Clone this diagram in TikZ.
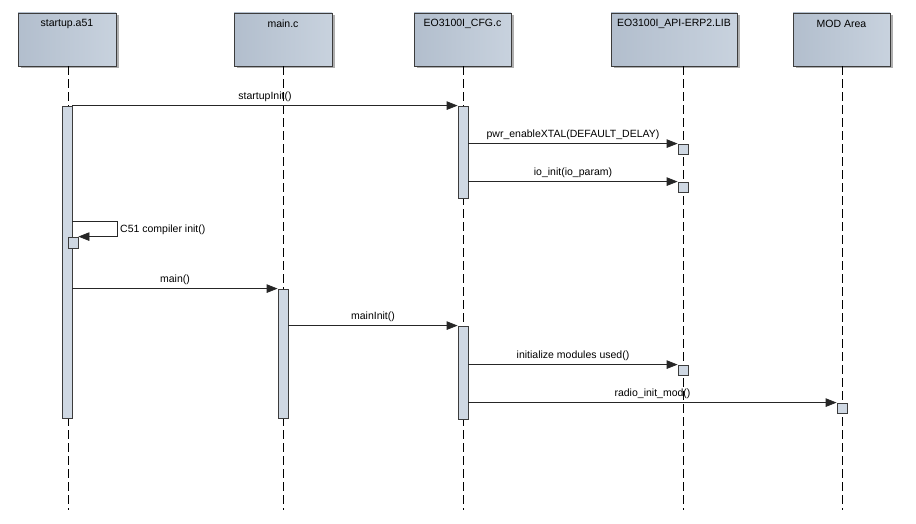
\documentclass[tikz,border=0pt]{standalone}
\usepackage{fontspec}
\setmainfont{Liberation Sans}
\usetikzlibrary{arrows.meta,positioning}
\definecolor{hdrL}{RGB}{178,190,205}
\definecolor{hdrM}{RGB}{206,215,226}
\definecolor{hdrR}{RGB}{200,210,222}
\definecolor{barfill}{RGB}{207,216,227}
\definecolor{edge}{RGB}{60,60,60}
\definecolor{shadow}{RGB}{175,175,175}
\tikzset{
  hdr/.style={draw=edge, line width=0.9pt, left color=hdrL, middle color=hdrM, right color=hdrR, minimum height=53pt, inner sep=0pt},
  hdrtext/.style={font=\fontsize{10.5}{12}\selectfont, anchor=center, inner sep=0pt},
  life/.style={draw=black, line width=0.8pt, dash pattern=on 9pt off 4pt},
  bar/.style={draw=edge, line width=0.8pt, fill=barfill, minimum width=10pt, inner sep=0pt},
  msg/.style={draw=black!85, line width=0.8pt, -{Triangle[length=11pt,width=8.5pt]}},
  lbl/.style={font=\fontsize{10.5}{12}\selectfont, inner sep=0pt}
}
\begin{document}
\begin{tikzpicture}[x=1pt,y=-1pt]
\useasboundingbox[fill=white] (0,0) rectangle (916,524);
% header shadows
\foreach \a/\b in {18/116, 234/332, 414/511, 611/737, 793/890}{
  \fill[shadow] (\a+2.5,15.5) rectangle (\b+2.5,68.5);
}
% headers
\node[hdr, minimum width=98pt] (hs) at (67,39.5) {};
\node[hdr, minimum width=98pt] (hm) at (283,39.5) {};
\node[hdr, minimum width=97pt] (hc) at (462.5,39.5) {};
\node[hdr, minimum width=126pt] (hl) at (674,39.5) {};
\node[hdr, minimum width=97pt] (hd) at (841.5,39.5) {};
\node[hdrtext] (ts) at (67,24) {startup.a51};
\node[hdrtext] (tm) at (283,24) {main.c};
\node[hdrtext] (tc) at (462.5,24) {EO3100I\_CFG.c};
\node[hdrtext] (tl) at (674,24) {EO3100I\_API-ERP2.LIB};
\node[hdrtext] (td) at (841.5,24) {MOD Area};
% lifeline ends
\coordinate (es) at (68,510);
\coordinate (em) at (283,510);
\coordinate (ec) at (463,510);
\coordinate (el) at (683,510);
\coordinate (ed) at (842,510);
\draw[life] (hs.south -| es) -- (es);
\draw[life] (hm.south -| em) -- (em);
\draw[life] (hc.south -| ec) -- (ec);
\draw[life] (hl.south -| el) -- (el);
\draw[life] (hd.south -| ed) -- (ed);
% activation bars
\node[bar, minimum height=312pt] (sb) at (67,262) {};
\node[bar, minimum height=129pt] (mb) at (283,353.5) {};
\node[bar, minimum height=92pt] (cb1) at (463,152) {};
\node[bar, minimum height=93pt] (cb2) at (463,372.5) {};
\node[bar, minimum height=10pt] (lb1) at (683,149) {};
\node[bar, minimum height=10pt] (lb2) at (683,187) {};
\node[bar, minimum height=11pt] (sb2) at (73,242.5) {};
\node[bar, minimum height=10pt] (lb3) at (683,370) {};
\node[bar, minimum height=10pt] (db1) at (842,408) {};
% messages
\draw[msg] (sb.north east) -- node[lbl, above=4pt] (m1) {startupInit()} (cb1.north west);
\draw[msg] (cb1.east |- lb1.north) -- node[lbl, above=4pt] (m2) {pwr\_enableXTAL(DEFAULT\_DELAY)} (lb1.north west);
\draw[msg] (cb1.east |- lb2.north) -- node[lbl, above=4pt] (m3) {io\_init(io\_param)} (lb2.north west);
\coordinate (sc1) at (117,221);
\draw[msg] (sb.east |- sc1) -- (sc1) -- (sc1 |- sb2.north) -- (sb2.north east);
\node[lbl, anchor=west] (m4) at (120,230) {C51 compiler init()};
\draw[msg] (sb.east |- mb.north) -- node[lbl, above=4pt] (m5) {main()} (mb.north west);
\draw[msg] (mb.east |- cb2.north) -- node[lbl, above=4pt] (m6) {mainInit()} (cb2.north west);
\draw[msg] (cb2.east |- lb3.north) -- node[lbl, above=4pt] (m7) {initialize modules used()} (lb3.north west);
\draw[msg] (cb2.east |- db1.north) -- node[lbl, above=4pt] (m8) {radio\_init\_mod()} (db1.north west);
\end{tikzpicture}
\end{document}
